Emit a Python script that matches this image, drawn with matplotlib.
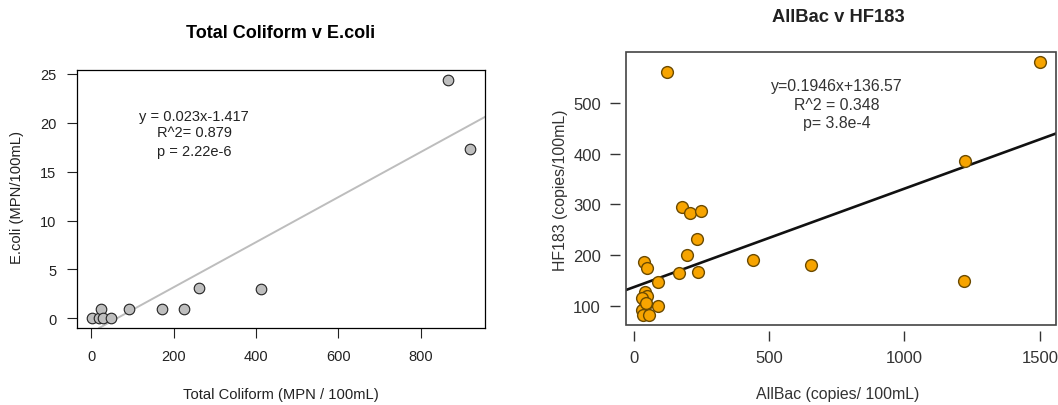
import numpy as np
import matplotlib.pyplot as plt
from matplotlib.patches import Rectangle

plt.rcParams['font.family'] = ['Liberation Sans', 'DejaVu Sans']

# Total coliform vs E. coli (MPN / 100 mL)
total_coliform = [2, 18, 23, 29, 48, 92, 172, 225, 262, 413, 867, 920]
ecoli = [0, 0, 1, 0, 0, 1, 1, 1, 3.1, 3.0, 24.4, 17.35]
tc_slope, tc_icept = 0.023, -1.417
tc_label = ["y = 0.023x-1.417", "R^2= 0.879", "p = 2.22e-6"]

# AllBac vs HF183 (copies / 100 mL)
allbac = [123, 1501, 1225, 1219, 180, 208, 250, 234, 196, 167, 239, 440,
          655, 92, 92, 39, 50, 42, 50, 31, 41, 31, 34, 58, 45]
hf183 = [561, 581, 386, 149, 294, 284, 288, 231, 200, 165, 167, 190,
         180, 147, 100, 187, 174, 128, 120, 115, 99, 91, 82, 82, 106]
ab_slope, ab_icept = 0.1946, 136.57
ab_label = ["y=0.1946x+136.57", "R^2 = 0.348", "p= 3.8e-4"]


def r_limits(v):
    # pad the data range by 4% like R's default axis style
    lo, hi = min(v), max(v)
    pad = 0.04 * (hi - lo)
    return lo - pad, hi + pad


W, H = 1058, 406
fig = plt.figure(figsize=(W / 100, H / 100), dpi=100)

# ---- left panel ----
ax1 = fig.add_axes([77 / W, 1 - 329 / H, 408 / W, 258 / H])
ax1.scatter(total_coliform, ecoli, s=58, c='#bebebe', edgecolors='#222222',
            linewidths=0.8, zorder=3)
ax1.axline((0, tc_icept), slope=tc_slope, color='#bdbdbd', lw=1.4, zorder=2)
ax1.set_xlim(*r_limits(total_coliform))
ax1.set_ylim(*r_limits(ecoli))
ax1.set_xticks([0, 200, 400, 600, 800])
ax1.set_yticks([0, 5, 10, 15, 20, 25])
ax1.tick_params(direction='out', length=7, width=0.8, labelsize=10.5,
                pad=8, colors='#222222')
for sp in ax1.spines.values():
    sp.set_linewidth(0.9)
for txt, yy in zip(tc_label, [20.7, 19.0, 17.15]):
    ax1.text(250, yy, txt, ha='center', va='center', fontsize=10.5,
             color='#222222')
fig.text(281 / W, 1 - 34 / H, "Total Coliform v E.coli", ha='center',
         va='center', fontsize=13, fontweight='bold')
fig.text(281 / W, 1 - 395 / H, "Total Coliform (MPN / 100mL)", ha='center',
         va='center', fontsize=10.6, color='#222222')
fig.text(17 / W, 1 - 198 / H, "E.coli (MPN/100mL)", ha='center',
         va='center', rotation=90, fontsize=10.6, color='#222222')

# ---- right panel ----
ax2 = fig.add_axes([626 / W, 1 - 326 / H, 430 / W, 273 / H])
ax2.scatter(allbac, hf183, s=72, c='#f7a400', edgecolors='#6b4a00',
            linewidths=1.0, zorder=3)
ax2.axline((0, ab_icept), slope=ab_slope, color='#111111', lw=1.9, zorder=2)
ax2.set_xlim(*r_limits(allbac))
ax2.set_ylim(*r_limits(hf183))
ax2.set_xticks([0, 500, 1000, 1500])
ax2.set_yticks([100, 200, 300, 400, 500])
# ticks sit slightly detached from the box
for side in ['left', 'bottom']:
    ax2.spines[side].set_position(('outward', 4))
for sp in ax2.spines.values():
    sp.set_linewidth(0)
ax2.add_patch(Rectangle((0, 0), 1, 1, transform=ax2.transAxes, fill=False,
                        ec='#444444', lw=1.2, clip_on=False, zorder=4))
ax2.tick_params(direction='out', length=7, width=1.0, labelsize=12,
                pad=7, colors='#333333')
for txt, yy in zip(ab_label, [535, 497, 462]):
    ax2.text(752, yy, txt, ha='center', va='center', fontsize=11.4,
             color='#333333')
fig.text(838 / W, 1 - 17 / H, "AllBac v HF183", ha='center',
         va='center', fontsize=13.2, fontweight='bold', color='#222222')
fig.text(838 / W, 1 - 395 / H, "AllBac (copies/ 100mL)", ha='center',
         va='center', fontsize=11.4, color='#333333')
fig.text(561 / W, 1 - 190 / H, "HF183 (copies/100mL)", ha='center',
         va='center', rotation=90, fontsize=11.4, color='#333333')

fig.savefig('out.png', dpi=100)
